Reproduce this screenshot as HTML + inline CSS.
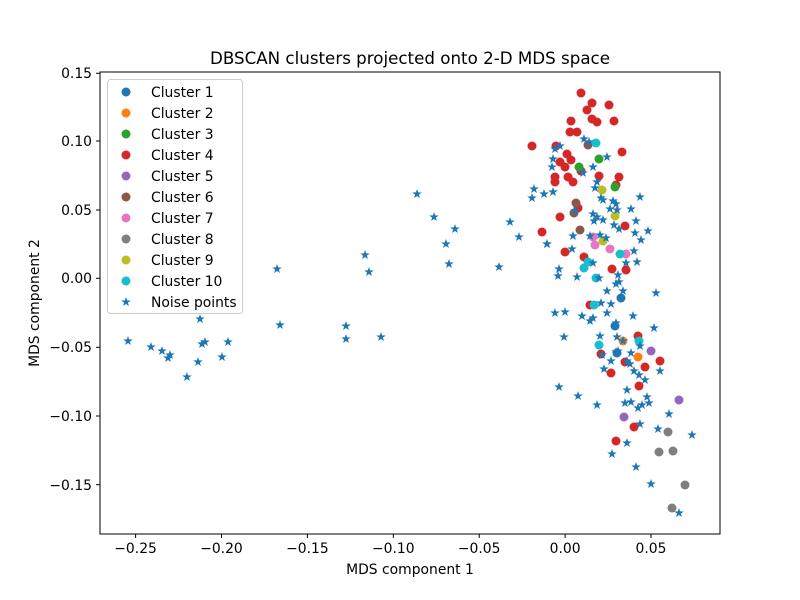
<!DOCTYPE html>
<html><head><meta charset="utf-8"><style>body{margin:0;background:#fff}svg{display:block}text{font-family:"DejaVu Sans","Liberation Sans",sans-serif;fill:#000}</style></head><body>
<svg width="800" height="600" xmlns="http://www.w3.org/2000/svg">
<defs>
<path id="s" d="M0,-5L1.18,-1.62L4.76,-1.55L1.9,0.62L2.94,4.05L0,2L-2.94,4.05L-1.9,0.62L-4.76,-1.55L-1.18,-1.62Z" fill="#1f77b4"/>
</defs>
<text x="410" y="64" font-size="16.7" text-anchor="middle">DBSCAN clusters projected onto 2-D MDS space</text>
<g id="pts">
<g fill="#d62728">
<circle cx="581" cy="93" r="4.5"/><circle cx="592" cy="103" r="4.5"/><circle cx="587" cy="110" r="4.5"/><circle cx="609" cy="105" r="4.5"/><circle cx="571" cy="121" r="4.5"/><circle cx="592" cy="119" r="4.5"/><circle cx="597" cy="122" r="4.5"/><circle cx="614" cy="121" r="4.5"/><circle cx="570" cy="132" r="4.5"/><circle cx="577" cy="132" r="4.5"/><circle cx="556" cy="146" r="4.5"/><circle cx="567" cy="154" r="4.5"/><circle cx="571" cy="160" r="4.5"/><circle cx="560" cy="162" r="4.5"/><circle cx="565" cy="167" r="4.5"/><circle cx="622" cy="152" r="4.5"/><circle cx="555" cy="177" r="4.5"/><circle cx="555" cy="182" r="4.5"/><circle cx="568" cy="177" r="4.5"/><circle cx="573" cy="182" r="4.5"/><circle cx="581" cy="171" r="4.5"/><circle cx="599" cy="176" r="4.5"/><circle cx="619" cy="177" r="4.5"/><circle cx="616" cy="185" r="4.5"/><circle cx="578" cy="208" r="4.5"/><circle cx="560" cy="217" r="4.5"/><circle cx="542" cy="232" r="4.5"/><circle cx="625" cy="226" r="4.5"/><circle cx="565" cy="252" r="4.5"/><circle cx="584" cy="257" r="4.5"/><circle cx="612" cy="269" r="4.5"/><circle cx="626" cy="270" r="4.5"/><circle cx="532" cy="146" r="4.5"/>
<circle cx="590" cy="305" r="4.5"/><circle cx="638" cy="336" r="4.5"/><circle cx="601" cy="354" r="4.5"/><circle cx="625" cy="362" r="4.5"/><circle cx="645" cy="367" r="4.5"/><circle cx="660" cy="361" r="4.5"/><circle cx="611" cy="373" r="4.5"/><circle cx="639" cy="386" r="4.5"/><circle cx="634" cy="427" r="4.5"/><circle cx="616" cy="441" r="4.5"/>
</g>
<g fill="#8c564b"><circle cx="588" cy="145" r="4.5"/><circle cx="576" cy="203" r="4.5"/><circle cx="574" cy="213" r="4.5"/><circle cx="580" cy="230" r="4.5"/></g>
<g fill="#2ca02c"><circle cx="599" cy="159" r="4.5"/><circle cx="579" cy="167" r="4.5"/><circle cx="615" cy="187" r="4.5"/></g>
<g fill="#bcbd22"><circle cx="602" cy="190" r="4.5"/><circle cx="615" cy="216" r="4.5"/><circle cx="603" cy="241" r="4.5"/></g>
<g fill="#e377c2"><circle cx="595" cy="245" r="4.5"/><circle cx="610" cy="249" r="4.5"/><circle cx="626" cy="254" r="4.5"/><circle cx="593" cy="237" r="4.5"/></g>
<g fill="#17becf"><circle cx="596" cy="143" r="4.5"/><circle cx="620" cy="254" r="4.5"/><circle cx="588" cy="262" r="4.5"/><circle cx="584" cy="268" r="4.5"/><circle cx="596" cy="278" r="4.5"/><circle cx="594" cy="305" r="4.5"/><circle cx="639" cy="341" r="4.5"/><circle cx="599" cy="345" r="4.5"/></g>
<g fill="#1f77b4"><circle cx="621" cy="298" r="4.5"/><circle cx="615" cy="326" r="4.5"/><circle cx="617" cy="353" r="4.5"/></g>
<g fill="#ff7f0e"><circle cx="623" cy="341" r="4.5"/><circle cx="638" cy="357" r="4.5"/></g>
<g fill="#9467bd"><circle cx="651" cy="351" r="4.5"/><circle cx="679" cy="400" r="4.5"/><circle cx="624" cy="417" r="4.5"/></g>
<g fill="#7f7f7f"><circle cx="668" cy="432" r="4.5"/><circle cx="659" cy="452" r="4.5"/><circle cx="673" cy="451" r="4.5"/><circle cx="685" cy="485" r="4.5"/><circle cx="672" cy="508" r="4.5"/></g>
</g>
<g>
<use href="#s" x="128" y="341"/><use href="#s" x="151" y="347"/><use href="#s" x="162" y="351"/><use href="#s" x="168" y="358"/><use href="#s" x="170" y="355"/><use href="#s" x="187" y="377"/><use href="#s" x="198" y="362"/><use href="#s" x="200" y="319"/><use href="#s" x="202" y="344"/><use href="#s" x="205" y="342"/><use href="#s" x="222" y="357"/><use href="#s" x="228" y="342"/><use href="#s" x="277" y="269"/><use href="#s" x="280" y="325"/><use href="#s" x="346" y="326"/><use href="#s" x="346" y="339"/><use href="#s" x="365" y="255"/><use href="#s" x="369" y="272"/><use href="#s" x="381" y="337"/><use href="#s" x="417" y="194"/><use href="#s" x="434" y="217"/><use href="#s" x="446" y="244"/><use href="#s" x="449" y="264"/><use href="#s" x="455" y="229"/><use href="#s" x="499" y="267"/><use href="#s" x="510" y="222"/><use href="#s" x="519" y="237"/><use href="#s" x="532" y="198"/><use href="#s" x="534" y="189"/><use href="#s" x="547" y="244"/>
<use href="#s" x="584" y="139"/><use href="#s" x="589" y="142"/><use href="#s" x="560" y="146"/><use href="#s" x="555" y="149"/><use href="#s" x="607" y="157"/><use href="#s" x="553" y="159"/><use href="#s" x="552" y="167"/><use href="#s" x="593" y="167"/><use href="#s" x="583" y="173"/><use href="#s" x="544" y="194"/><use href="#s" x="553" y="192"/><use href="#s" x="597" y="182"/><use href="#s" x="595" y="188"/><use href="#s" x="601" y="198"/><use href="#s" x="603" y="200"/><use href="#s" x="640" y="197"/><use href="#s" x="613" y="201"/><use href="#s" x="616" y="204"/><use href="#s" x="610" y="209"/><use href="#s" x="617" y="210"/><use href="#s" x="631" y="209"/><use href="#s" x="575" y="211"/><use href="#s" x="593" y="214"/><use href="#s" x="597" y="217"/><use href="#s" x="594" y="221"/><use href="#s" x="603" y="220"/><use href="#s" x="636" y="221"/><use href="#s" x="614" y="225"/><use href="#s" x="619" y="229"/><use href="#s" x="648" y="231"/><use href="#s" x="635" y="233"/><use href="#s" x="641" y="240"/><use href="#s" x="547" y="244"/><use href="#s" x="573" y="236"/><use href="#s" x="590" y="236"/><use href="#s" x="600" y="235"/><use href="#s" x="606" y="238"/><use href="#s" x="572" y="249"/><use href="#s" x="634" y="251"/><use href="#s" x="626" y="263"/><use href="#s" x="637" y="262"/><use href="#s" x="593" y="263"/><use href="#s" x="559" y="269"/><use href="#s" x="558" y="276"/><use href="#s" x="577" y="277"/><use href="#s" x="599" y="278"/><use href="#s" x="618" y="275"/><use href="#s" x="619" y="282"/><use href="#s" x="616" y="284"/><use href="#s" x="607" y="291"/><use href="#s" x="623" y="291"/><use href="#s" x="656" y="293"/>
<use href="#s" x="555" y="313"/><use href="#s" x="565" y="312"/><use href="#s" x="582" y="316"/><use href="#s" x="590" y="321"/><use href="#s" x="593" y="318"/><use href="#s" x="601" y="303"/><use href="#s" x="611" y="304"/><use href="#s" x="607" y="313"/><use href="#s" x="633" y="316"/><use href="#s" x="616" y="323"/><use href="#s" x="654" y="328"/><use href="#s" x="564" y="337"/><use href="#s" x="600" y="336"/><use href="#s" x="617" y="337"/><use href="#s" x="623" y="341"/><use href="#s" x="640" y="346"/><use href="#s" x="602" y="355"/><use href="#s" x="616" y="352"/><use href="#s" x="618" y="351"/><use href="#s" x="631" y="353"/><use href="#s" x="611" y="361"/><use href="#s" x="627" y="361"/><use href="#s" x="630" y="364"/><use href="#s" x="604" y="369"/><use href="#s" x="634" y="371"/><use href="#s" x="639" y="375"/><use href="#s" x="645" y="380"/><use href="#s" x="660" y="371"/><use href="#s" x="559" y="387"/><use href="#s" x="578" y="396"/><use href="#s" x="597" y="405"/><use href="#s" x="627" y="390"/><use href="#s" x="625" y="403"/><use href="#s" x="631" y="402"/><use href="#s" x="638" y="408"/><use href="#s" x="642" y="405"/><use href="#s" x="647" y="397"/><use href="#s" x="649" y="403"/><use href="#s" x="669" y="414"/><use href="#s" x="640" y="424"/><use href="#s" x="658" y="429"/><use href="#s" x="692" y="435"/><use href="#s" x="627" y="443"/><use href="#s" x="612" y="454"/><use href="#s" x="636" y="467"/><use href="#s" x="651" y="484"/><use href="#s" x="679" y="513"/>
</g>
<rect x="100" y="72" width="620" height="462" fill="none" stroke="#000" stroke-width="1"/>
<g stroke="#000" stroke-width="1">
<line x1="135.6" y1="534" x2="135.6" y2="538"/><line x1="221.5" y1="534" x2="221.5" y2="538"/><line x1="307.4" y1="534" x2="307.4" y2="538"/><line x1="393.3" y1="534" x2="393.3" y2="538"/><line x1="479.2" y1="534" x2="479.2" y2="538"/><line x1="565.1" y1="534" x2="565.1" y2="538"/><line x1="651" y1="534" x2="651" y2="538"/>
<line x1="96" y1="73.3" x2="100" y2="73.3"/><line x1="96" y1="141" x2="100" y2="141"/><line x1="96" y1="210" x2="100" y2="210"/><line x1="96" y1="278.3" x2="100" y2="278.3"/><line x1="96" y1="347.3" x2="100" y2="347.3"/><line x1="96" y1="416" x2="100" y2="416"/><line x1="96" y1="484.7" x2="100" y2="484.7"/>
</g>
<g font-size="13.9" text-anchor="middle">
<text x="135.6" y="553">−0.25</text><text x="221.5" y="553">−0.20</text><text x="307.4" y="553">−0.15</text><text x="393.3" y="553">−0.10</text><text x="479.2" y="553">−0.05</text><text x="565.1" y="553">0.00</text><text x="651" y="553">0.05</text>
<text x="410" y="574">MDS component 1</text>
</g>
<g font-size="13.9" text-anchor="end">
<text x="92" y="78">0.15</text><text x="92" y="146">0.10</text><text x="92" y="215">0.05</text><text x="92" y="283">0.00</text><text x="92" y="352">−0.05</text><text x="92" y="421">−0.10</text><text x="92" y="490">−0.15</text>
</g>
<text transform="translate(39,303) rotate(-90)" font-size="13.9" text-anchor="middle">MDS component 2</text>
<rect x="107.5" y="79.5" width="135" height="234" rx="3" fill="#fff" fill-opacity="0.8" stroke="#ccc"/>
<g font-size="13.9">
<circle cx="126" cy="92" r="4.5" fill="#1f77b4"/><text x="151" y="97">Cluster 1</text>
<circle cx="126" cy="113" r="4.5" fill="#ff7f0e"/><text x="151" y="118">Cluster 2</text>
<circle cx="126" cy="134" r="4.5" fill="#2ca02c"/><text x="151" y="139">Cluster 3</text>
<circle cx="126" cy="155" r="4.5" fill="#d62728"/><text x="151" y="160">Cluster 4</text>
<circle cx="126" cy="176" r="4.5" fill="#9467bd"/><text x="151" y="181">Cluster 5</text>
<circle cx="126" cy="197" r="4.5" fill="#8c564b"/><text x="151" y="202">Cluster 6</text>
<circle cx="126" cy="218" r="4.5" fill="#e377c2"/><text x="151" y="223">Cluster 7</text>
<circle cx="126" cy="239" r="4.5" fill="#7f7f7f"/><text x="151" y="244">Cluster 8</text>
<circle cx="126" cy="260" r="4.5" fill="#bcbd22"/><text x="151" y="265">Cluster 9</text>
<circle cx="126" cy="281" r="4.5" fill="#17becf"/><text x="151" y="286">Cluster 10</text>
<use href="#s" x="126" y="302"/><text x="151" y="307">Noise points</text>
</g>
</svg>
</body></html>
